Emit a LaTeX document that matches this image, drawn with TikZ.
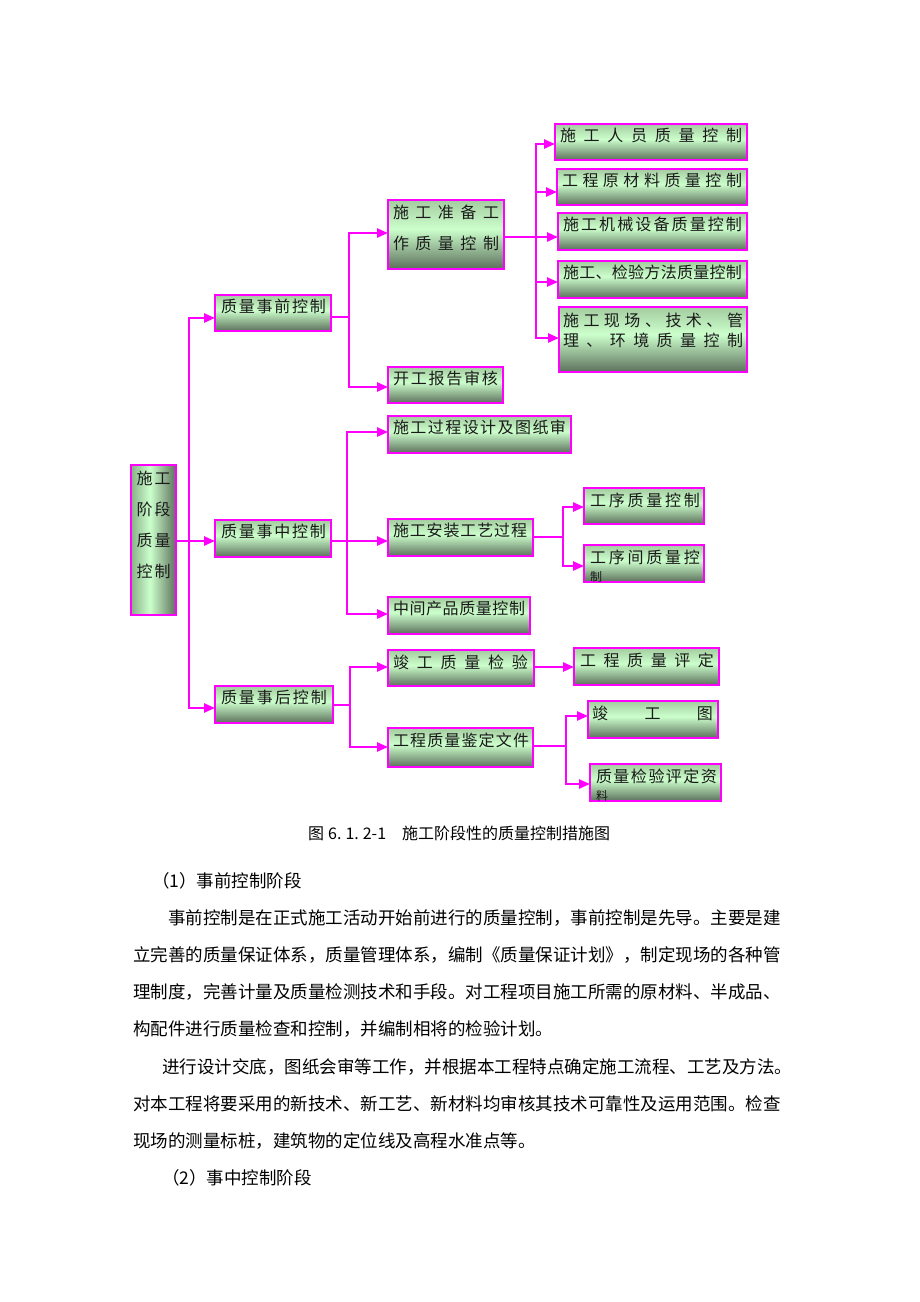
\documentclass[tikz,border=0pt]{standalone}
\usepackage{fontspec}
\setmainfont{Noto Sans CJK SC}
\usetikzlibrary{arrows.meta}
\definecolor{mag}{HTML}{FF00FF}
\definecolor{gtop}{HTML}{A4CCA0}
\definecolor{gmid}{HTML}{CCFFCC}
\definecolor{gbot}{HTML}{5C705C}
\definecolor{gside}{HTML}{88B088}
\definecolor{txt}{HTML}{1A1A1A}
\pgfdeclareverticalshading{boxv}{100bp}{color(0bp)=(gbot); color(25bp)=(gbot); color(54bp)=(gmid); color(75bp)=(gtop); color(100bp)=(gtop)}
\pgfdeclarehorizontalshading{boxh}{100bp}{color(0bp)=(gside); color(25bp)=(gside); color(46bp)=(gmid); color(75bp)=(gbot); color(100bp)=(gbot)}
% spread characters evenly: \hfil between consecutive tokens
\def\sprd#1{\sprdA#1\relax}
\def\sprdA#1#2{#1\ifx\relax#2\else\hfil\expandafter\sprdA\expandafter#2\fi}
% #1 width, #2 height, #3 first baseline, #4 line pitch, #5 left offset, #6 lines
\newcommand\bxt[6]{\vbox to #2pt{\hsize=#1pt\baselineskip=#4pt\lineskiplimit=-100pt\lineskip=0pt
  \def\bxl{#5pt}\def\bxw{#1pt}%
  \vskip\dimexpr #3pt-#4pt\relax\hbox{}#6\vss}}
\newcommand\bxline[2]{\hbox to \bxw{\hskip\bxl\hbox to #1pt{\sprd{#2}}\hss}}
\newcommand\bxsmall[1]{\hbox to \bxw{\hskip\bxl{\fontsize{12}{12}\selectfont #1}\hss}}
\begin{document}
\begin{tikzpicture}[x=1pt,y=-1pt,
  box/.style={draw=mag, line width=1.8pt, shade, shading=boxv, inner sep=0pt, outer sep=0pt,
    anchor=north west, text=txt, font=\fontsize{16}{16}\selectfont},
  conn/.style={draw=mag, line width=2.4pt, line cap=rect},
  arr/.style={draw=mag, line width=2.4pt, -{Triangle[length=11pt,width=9pt]}},
  para/.style={anchor=base west, inner sep=0pt, text=black, font=\fontsize{17.5}{17.5}\selectfont}]
\useasboundingbox[fill=white] (0,0) rectangle (920,1302);

% ---- boxes ----
\node[box, shading=boxh] (root) at (131,465) {\bxt{45}{150}{19}{31}{5.5}{\bxline{34}{施工}\bxline{34}{阶段}\bxline{34}{质量}\bxline{34}{控制}}};
\node[box] (pre) at (215,295) {\bxt{116}{36}{17}{20}{6}{\bxline{105}{质量事前控制}}};
\node[box] (mid) at (215,520) {\bxt{116}{37}{17}{20}{6}{\bxline{105}{质量事中控制}}};
\node[box] (post) at (215,686) {\bxt{118}{37}{17}{20}{6}{\bxline{106}{质量事后控制}}};

\node[box] (prep) at (388,200) {\bxt{116}{69}{18}{31}{5}{\bxline{106}{施工准备工}\bxline{106}{作质量控制}}};
\node[box] (kaigong) at (388,367) {\bxt{115}{36}{17}{20}{5}{\bxline{105}{开工报告审核}}};

\node[box] (c1) at (555,124) {\bxt{192}{36}{17}{20}{5}{\bxline{182}{施工人员质量控制}}};
\node[box] (c2) at (557,169) {\bxt{190}{36}{17}{20}{5}{\bxline{180}{工程原材料质量控制}}};
\node[box] (c3) at (558,213) {\bxt{189}{37}{17}{20}{5}{\bxline{179}{施工机械设备质量控制}}};
\node[box] (c4) at (558,261) {\bxt{189}{37}{17}{20}{5}{\bxline{179}{施工、检验方法质量控制}}};
\node[box] (c5) at (559,307) {\bxt{188}{65}{19}{20}{4}{\bxline{180}{施工现场、技术、管}\bxline{180}{理、环境质量控制}}};

\node[box] (design) at (388,416) {\bxt{183}{37}{17}{20}{5}{\bxline{173}{施工过程设计及图纸审}}};
\node[box] (install) at (388,519) {\bxt{145}{37}{17}{20}{5}{\bxline{134}{施工安装工艺过程}}};
\node[box] (mp) at (388,597) {\bxt{142}{37}{17.5}{20}{5}{\bxline{132}{中间产品质量控制}}};
\node[box] (gx1) at (584,488) {\bxt{120}{36}{18}{20}{6}{\bxline{110}{工序质量控制}}};
\node[box] (gx2) at (584,545) {\bxt{120}{37}{18}{18}{6}{\bxline{110}{工序间质量控}\bxsmall{制}}};

\node[box] (jungong) at (388,650) {\bxt{146}{36}{18}{20}{5}{\bxline{135}{竣工质量检验}}};
\node[box] (pingding) at (574,648) {\bxt{145}{37}{18}{20}{6}{\bxline{134}{工程质量评定}}};
\node[box] (jd) at (388,728) {\bxt{145}{39}{18}{20}{5}{\bxline{136}{工程质量鉴定文件}}};
\node[box] (jgt) at (588,701) {\bxt{130}{37}{18}{20}{4}{\bxline{121}{竣工图}}};
\node[box] (zl) at (590,764) {\bxt{131}{37}{18}{18}{6}{\bxline{121}{质量检验评定资}\bxsmall{料}}};

% ---- connectors ----
\coordinate (jA) at (189,318);
\coordinate (jB) at (189,541);
\coordinate (jC) at (189,708);
\draw[conn] (jA) -- (jC);
\draw[arr] (jA) -- (jA -| pre.west);
\draw[arr] (root.east |- jB) -- (jB -| mid.west);
\draw[arr] (jC) -- (jC -| post.west);

\coordinate (kA) at (349,317);
\coordinate (kA1) at (349,233);
\coordinate (kA2) at (349,387);
\draw[conn] (pre.east |- kA) -- (kA);
\draw[conn] (kA1) -- (kA2);
\draw[arr] (kA1) -- (kA1 -| prep.west);
\draw[arr] (kA2) -- (kA2 -| kaigong.west);

\coordinate (kB) at (536,237);
\coordinate (kB1) at (536,144);
\coordinate (kB2) at (536,192);
\coordinate (kB4) at (536,282);
\coordinate (kB5) at (536,338);
\draw[conn] (prep.east |- kB) -- (kB);
\draw[conn] (kB1) -- (kB5);
\draw[arr] (kB1) -- (kB1 -| c1.west);
\draw[arr] (kB2) -- (kB2 -| c2.west);
\draw[arr] (kB) -- (kB -| c3.west);
\draw[arr] (kB4) -- (kB4 -| c4.west);
\draw[arr] (kB5) -- (kB5 -| c5.west);

\coordinate (kC) at (347,541);
\coordinate (kC1) at (347,432);
\coordinate (kC2) at (347,614);
\draw[arr] (mid.east |- kC) -- (kC -| install.west);
\draw[conn] (kC1) -- (kC2);
\draw[arr] (kC1) -- (kC1 -| design.west);
\draw[arr] (kC2) -- (kC2 -| mp.west);

\coordinate (kD) at (563,537);
\coordinate (kD1) at (563,507);
\coordinate (kD2) at (563,566);
\draw[conn] (install.east |- kD) -- (kD);
\draw[conn] (kD1) -- (kD2);
\draw[arr] (kD1) -- (kD1 -| gx1.west);
\draw[arr] (kD2) -- (kD2 -| gx2.west);

\coordinate (kE) at (350,705);
\coordinate (kE1) at (350,667);
\coordinate (kE2) at (350,747);
\draw[conn] (post.east |- kE) -- (kE);
\draw[conn] (kE1) -- (kE2);
\draw[arr] (kE1) -- (kE1 -| jungong.west);
\draw[arr] (kE2) -- (kE2 -| jd.west);
\draw[arr] (jungong.east |- kE1) -- (kE1 -| pingding.west);

\coordinate (kG) at (566,746);
\coordinate (kG1) at (566,716);
\coordinate (kG2) at (566,784);
\draw[conn] (jd.east |- kG) -- (kG);
\draw[conn] (kG1) -- (kG2);
\draw[arr] (kG1) -- (kG1 -| jgt.west);
\draw[arr] (kG2) -- (kG2 -| zl.west);

% ---- caption ----
\node[anchor=base west, inner sep=0pt, font=\fontsize{16}{16}\selectfont] (cap) at (308,839)
  {图\hspace{4pt}6.\hspace{4pt}1.\hspace{4pt}2-1\hspace{16pt}施工阶段性的质量控制措施图};

% ---- body text ----
\node[para] (p1) at (152,887.6) {（1）事前控制阶段};
\node[para] (p2) at (168,924.6) {事前控制是在正式施工活动开始前进行的质量控制，事前控制是先导。主要是建};
\node[para] (p3) at (133,961.6) {立完善的质量保证体系，质量管理体系，编制《质量保证计划》，制定现场的各种管};
\node[para] (p4) at (133,998.6) {理制度，完善计量及质量检测技术和手段。对工程项目施工所需的原材料、半成品、};
\node[para] (p5) at (133,1035.6) {构配件进行质量检查和控制，并编制相将的检验计划。};
\node[para] (p6) at (162,1073.6) {进行设计交底，图纸会审等工作，并根据本工程特点确定施工流程、工艺及方法。};
\node[para] (p7) at (133,1110.6) {对本工程将要采用的新技术、新工艺、新材料均审核其技术可靠性及运用范围。检查};
\node[para] (p8) at (133,1147.6) {现场的测量标桩，建筑物的定位线及高程水准点等。};
\node[para] (p9) at (162,1184.6) {（2）事中控制阶段};
\end{tikzpicture}
\end{document}
